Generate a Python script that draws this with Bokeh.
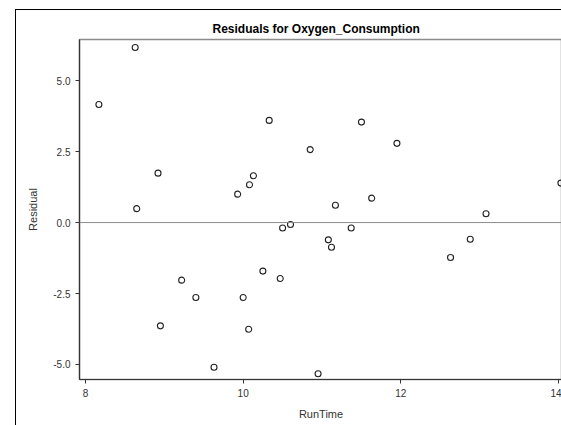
from bokeh.plotting import figure
from bokeh.models import Span, Range1d, FixedTicker, CustomJSTickFormatter
from bokeh.embed import file_html
from bokeh.resources import INLINE

run_time = [8.63, 8.17, 8.92, 10.13, 10.08, 9.93, 8.65, 10.25, 9.22, 9.40,
            10.00, 8.95, 10.07, 9.63, 10.33, 11.50, 10.85, 11.95, 11.63, 11.17,
            10.50, 10.60, 11.37, 11.08, 11.12, 10.47, 10.95, 14.03, 13.08, 12.88,
            12.63]
residual = [6.17, 4.16, 1.74, 1.65, 1.33, 1.00, 0.49, -1.71, -2.03, -2.64,
            -2.64, -3.64, -3.76, -5.10, 3.60, 3.54, 2.57, 2.79, 0.86, 0.61,
            -0.19, -0.07, -0.19, -0.61, -0.87, -1.97, -5.33, 1.39, 0.31, -0.59,
            -1.23]
x_ticks = [8, 10, 12, 14]
y_ticks = [-5.0, -2.5, 0.0, 2.5, 5.0]

FONT = "Liberation Sans"

p = figure(width=546, height=416, output_backend="svg", toolbar_location=None,
           x_range=Range1d(7.924, 14.05), y_range=Range1d(-5.53, 6.45),
           min_border_left=63, min_border_right=0, min_border_top=29,
           min_border_bottom=47)
p.margin = (9, 0, 0, 15)
p.styles = {"border-left": "1px solid #000", "border-top": "1px solid #000",
            "box-sizing": "border-box"}

p.title.text = "Residuals for Oxygen_Consumption"
p.title.text_font = FONT
p.title.text_font_size = "12px"
p.title.text_font_style = "bold"
p.title.text_color = "#000000"
p.title.align = "left"
p.title.offset = 133
p.title.standoff = 7

p.xgrid.visible = False
p.ygrid.visible = False
p.outline_line_color = "#8c8c8c"
p.outline_line_width = 1.5
p.background_fill_color = "white"
p.border_fill_color = "white"

zero = Span(location=0, dimension="width", line_color="#8c8c8c", line_width=1)
p.add_layout(zero)

p.scatter(run_time, residual, marker="circle", size=6, fill_color=None,
          line_color="#222222", line_width=1.1)

p.xaxis.ticker = FixedTicker(ticks=x_ticks)
p.yaxis.ticker = FixedTicker(ticks=y_ticks)
p.yaxis.formatter = CustomJSTickFormatter(code="return tick.toFixed(1);")
p.xaxis.axis_label = "RunTime"
p.yaxis.axis_label = "Residual"

for ax in (p.xaxis, p.yaxis):
    ax.axis_line_color = "#333333"
    ax.axis_line_width = 1.2
    ax.major_tick_line_color = "#333333"
    ax.major_tick_out = 4
    ax.major_tick_in = 0
    ax.minor_tick_line_color = None
    ax.major_label_text_font = FONT
    ax.major_label_text_font_size = "10px"
    ax.major_label_text_color = "#333333"
    ax.axis_label_text_font = FONT
    ax.axis_label_text_font_size = "11px"
    ax.axis_label_text_font_style = "normal"
    ax.axis_label_text_color = "#333333"

p.yaxis.major_label_standoff = 5
p.yaxis.axis_label_standoff = 11
p.xaxis.major_label_standoff = 5
p.xaxis.axis_label_standoff = 8

open("out.html", "w").write(file_html(p, INLINE))
